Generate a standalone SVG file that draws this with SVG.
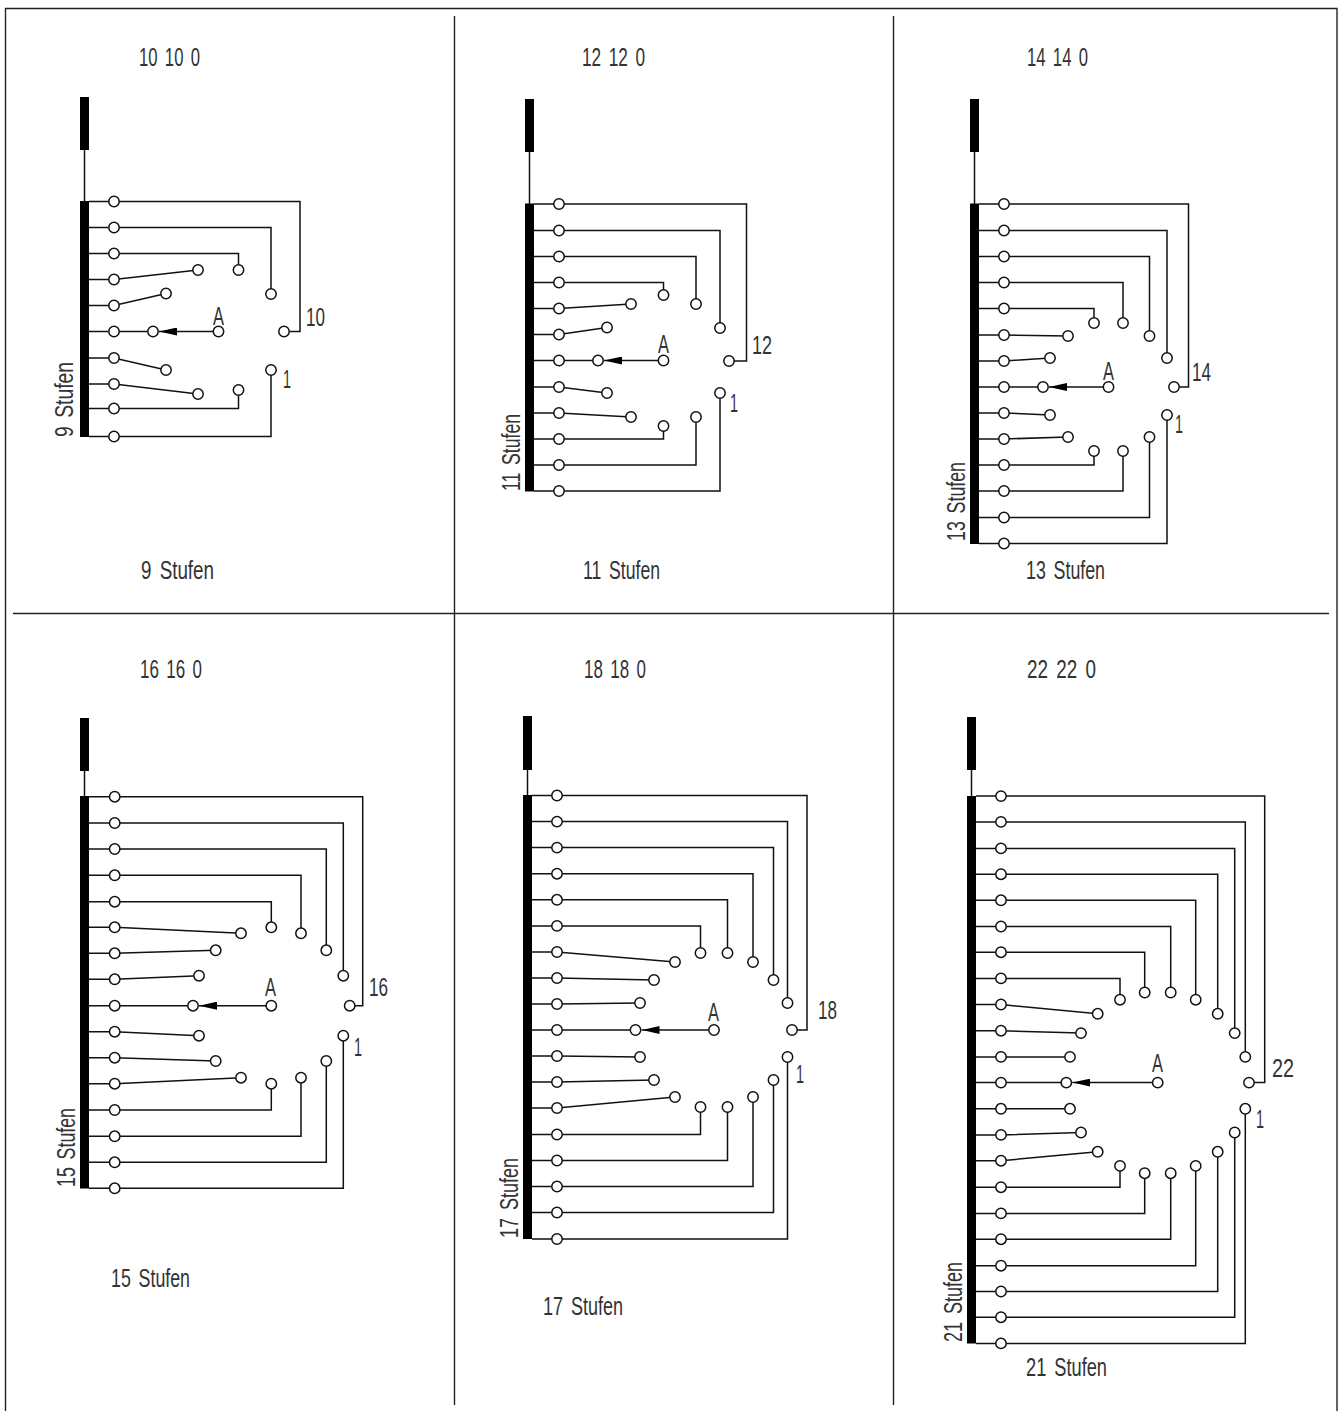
<svg xmlns="http://www.w3.org/2000/svg" width="1338" height="1411" viewBox="0 0 1338 1411">
<style>
.f{fill:none;stroke:#222;stroke-width:1.4}
.w{fill:none;stroke:#111;stroke-width:1.5}
.b{fill:#000}
.c{fill:#fff;stroke:#111;stroke-width:1.5}
text{font-family:"Liberation Sans",Arial,sans-serif;font-size:25px;fill:#333;word-spacing:4px}
</style>
<defs>
<marker id="arr" markerUnits="userSpaceOnUse" viewBox="0 0 18 8" refX="18" refY="4" markerWidth="18" markerHeight="8" orient="auto"><path d="M0 0L18 4L0 8Z" fill="#000"/></marker>
<circle id="n" r="5.2"/>
</defs>
<rect width="1338" height="1411" fill="#fff"/>
<g id="frame">
<path class="f" d="M5.5 1411V8.5H1337V1411"/>
<path class="f" d="M13 613.5H1329M454.5 16V1405M893.5 16V1405"/>
</g>
<g id="connectors">
<!-- panel 1 -->
<path class="w" d="M84.5 150V201"/>
<path class="w" d="M89 201.5H300V331.5H289"/>
<path class="w" d="M89 227.5H271V289"/>
<path class="w" d="M89 253.5H238.5V265"/>
<path class="w" d="M89 279.5H114L198 270"/>
<path class="w" d="M89 305.5H114L166 293.5"/>
<path class="w" d="M89 331.5H153"/>
<path class="w" marker-end="url(#arr)" d="M218.5 331.5H159"/>
<path class="w" d="M89 358H114L166 370"/>
<path class="w" d="M89 384H114L198 394"/>
<path class="w" d="M89 408.5H238.5V395"/>
<path class="w" d="M89 436.5H271V375"/>
<!-- panel 2 -->
<path class="w" d="M529.5 152V204"/>
<path class="w" d="M534 204H746.5V361H734"/>
<path class="w" d="M534 230.5H720V323"/>
<path class="w" d="M534 256.5H696V299"/>
<path class="w" d="M534 282.5H663.5V290"/>
<path class="w" d="M534 308.5H559L631 304"/>
<path class="w" d="M534 334.5H559L607 327.5"/>
<path class="w" d="M534 360.5H598"/>
<path class="w" marker-end="url(#arr)" d="M663.5 360.5H604"/>
<path class="w" d="M534 387H559L607 393"/>
<path class="w" d="M534 413H559L631 417"/>
<path class="w" d="M534 439H663.5V431"/>
<path class="w" d="M534 465H696V422"/>
<path class="w" d="M534 491H720V398"/>
<!-- panel 3 -->
<path class="w" d="M974.5 152V204"/>
<path class="w" d="M979 204H1188.5V387H1179"/>
<path class="w" d="M979 230.5H1167V353"/>
<path class="w" d="M979 256.5H1149.5V331"/>
<path class="w" d="M979 282.5H1123V318"/>
<path class="w" d="M979 308.5H1094V318"/>
<path class="w" d="M979 335H1004L1068 336"/>
<path class="w" d="M979 361H1004L1050 358"/>
<path class="w" d="M979 387H1043"/>
<path class="w" marker-end="url(#arr)" d="M1108.5 387H1049"/>
<path class="w" d="M979 413H1004L1050 415"/>
<path class="w" d="M979 439H1004L1068 437"/>
<path class="w" d="M979 465H1094V456"/>
<path class="w" d="M979 491H1123V456"/>
<path class="w" d="M979 517.5H1149.5V442"/>
<path class="w" d="M979 543.5H1167V420"/>
<!-- panel 4 -->
<path class="w" d="M84.5 771V796"/>
<path class="w" d="M89 796.7H362.7V1005.7H354.7"/>
<path class="w" d="M89 823H343.3V970.7"/>
<path class="w" d="M89 849H326.3V945.3"/>
<path class="w" d="M89 875.3H301V928.3"/>
<path class="w" d="M89 901.7H271.3V922.3"/>
<path class="w" d="M89 927.3H114.7L241 933.3"/>
<path class="w" d="M89 953.3H114.7L215.7 950.3"/>
<path class="w" d="M89 979.3H114.7L199 975.7"/>
<path class="w" d="M89 1005.7H193"/>
<path class="w" marker-end="url(#arr)" d="M271.3 1005.7H199"/>
<path class="w" d="M89 1031.7H114.7L199 1035.7"/>
<path class="w" d="M89 1057.7H114.7L215.7 1061"/>
<path class="w" d="M89 1083.7H114.7L241 1077.7"/>
<path class="w" d="M89 1110H271.3V1088.7"/>
<path class="w" d="M89 1136.3H301V1082.7"/>
<path class="w" d="M89 1162.3H326.3V1066"/>
<path class="w" d="M89 1188.3H343.3V1040.7"/>
<!-- panel 5 -->
<path class="w" d="M527.5 770V795"/>
<path class="w" d="M532 795.5H807V1030H797"/>
<path class="w" d="M532 821.6H787.5V998"/>
<path class="w" d="M532 847.6H773.5V975"/>
<path class="w" d="M532 873.7H753V957"/>
<path class="w" d="M532 899.8H727.5V948"/>
<path class="w" d="M532 925.9H700.5V948"/>
<path class="w" d="M532 952H557L675 962"/>
<path class="w" d="M532 978H557L654 980"/>
<path class="w" d="M532 1004H557L640 1003"/>
<path class="w" d="M532 1030H635.5"/>
<path class="w" marker-end="url(#arr)" d="M714 1030H641.5"/>
<path class="w" d="M532 1056H557L640 1057"/>
<path class="w" d="M532 1082H557L654 1080"/>
<path class="w" d="M532 1108H557L675 1097"/>
<path class="w" d="M532 1134.5H700.5V1112"/>
<path class="w" d="M532 1160.5H727.5V1112"/>
<path class="w" d="M532 1186.5H753V1102"/>
<path class="w" d="M532 1212.5H773.5V1085"/>
<path class="w" d="M532 1239H787.5V1062"/>
<!-- panel 6 -->
<path class="w" d="M971.5 770V796"/>
<path class="w" d="M976 796.1H1264.7V1082.6H1254"/>
<path class="w" d="M976 821.9H1245.3V1051.9"/>
<path class="w" d="M976 848.4H1234.7V1028.1"/>
<path class="w" d="M976 874.2H1217.7V1008.8"/>
<path class="w" d="M976 900.3H1195.7V994.7"/>
<path class="w" d="M976 926.5H1170.7V987.5"/>
<path class="w" d="M976 952.2H1144.7V987.5"/>
<path class="w" d="M976 978.4H1120V994.7"/>
<path class="w" d="M976 1004.5H1001L1097.7 1013.8"/>
<path class="w" d="M976 1030.7H1001L1081 1033.1"/>
<path class="w" d="M976 1056.9H1070"/>
<path class="w" d="M976 1082.6H1066.3"/>
<path class="w" marker-end="url(#arr)" d="M1157.7 1082.6H1072.3"/>
<path class="w" d="M976 1108.8H1070"/>
<path class="w" d="M976 1134.9H1001L1081 1132.5"/>
<path class="w" d="M976 1160.7H1001L1097.7 1151.8"/>
<path class="w" d="M976 1187.2H1120V1170.9"/>
<path class="w" d="M976 1213.4H1144.7V1178.2"/>
<path class="w" d="M976 1239.2H1170.7V1178.2"/>
<path class="w" d="M976 1265.7H1195.7V1170.9"/>
<path class="w" d="M976 1291.5H1217.7V1156.8"/>
<path class="w" d="M976 1317.2H1234.7V1137.5"/>
<path class="w" d="M976 1343.4H1245.3V1113.8"/>
</g>
<g id="panel-10">
<rect class="b" x="80" y="97" width="9" height="53"/><rect class="b" x="80" y="201" width="9" height="236"/>
<g class="c">
<use href="#n" x="114" y="201.5"/><use href="#n" x="114" y="227.5"/><use href="#n" x="114" y="253.5"/><use href="#n" x="114" y="279.5"/><use href="#n" x="114" y="305.5"/><use href="#n" x="114" y="331.5"/><use href="#n" x="114" y="358"/><use href="#n" x="114" y="384"/><use href="#n" x="114" y="408.5"/><use href="#n" x="114" y="436.5"/>
<use href="#n" x="284" y="331.5"/><use href="#n" x="271" y="294"/><use href="#n" x="238.5" y="270"/><use href="#n" x="198" y="270"/><use href="#n" x="166" y="293.5"/><use href="#n" x="153" y="331.5"/><use href="#n" x="218.5" y="331.5"/><use href="#n" x="166" y="370"/><use href="#n" x="198" y="394"/><use href="#n" x="238.5" y="390"/><use href="#n" x="271" y="370"/>
</g>
<text x="139" y="66" textLength="61" lengthAdjust="spacingAndGlyphs">10 10 0</text>
<text x="141" y="579" textLength="73" lengthAdjust="spacingAndGlyphs">9 Stufen</text>
<text transform="translate(73 437) rotate(-90)" textLength="75" lengthAdjust="spacingAndGlyphs">9 Stufen</text>
<text x="213" y="325" textLength="11" lengthAdjust="spacingAndGlyphs">A</text>
<text x="306" y="326" textLength="19" lengthAdjust="spacingAndGlyphs">10</text>
<text x="283" y="388" textLength="8" lengthAdjust="spacingAndGlyphs">1</text>
</g>
<g id="panel-12">
<rect class="b" x="525" y="99" width="9" height="53"/><rect class="b" x="525" y="203.5" width="9" height="288"/>
<g class="c">
<use href="#n" x="559" y="204"/><use href="#n" x="559" y="230.5"/><use href="#n" x="559" y="256.5"/><use href="#n" x="559" y="282.5"/><use href="#n" x="559" y="308.5"/><use href="#n" x="559" y="334.5"/><use href="#n" x="559" y="360.5"/><use href="#n" x="559" y="387"/><use href="#n" x="559" y="413"/><use href="#n" x="559" y="439"/><use href="#n" x="559" y="465"/><use href="#n" x="559" y="491"/>
<use href="#n" x="729" y="361"/><use href="#n" x="720" y="328"/><use href="#n" x="696" y="304"/><use href="#n" x="663.5" y="295"/><use href="#n" x="631" y="304"/><use href="#n" x="607" y="327.5"/><use href="#n" x="598" y="360.5"/><use href="#n" x="663.5" y="360.5"/><use href="#n" x="607" y="393"/><use href="#n" x="631" y="417"/><use href="#n" x="663.5" y="426"/><use href="#n" x="696" y="417"/><use href="#n" x="720" y="393"/>
</g>
<text x="582" y="66" textLength="63" lengthAdjust="spacingAndGlyphs">12 12 0</text>
<text x="583" y="579" textLength="77" lengthAdjust="spacingAndGlyphs">11 Stufen</text>
<text transform="translate(520 491) rotate(-90)" textLength="77" lengthAdjust="spacingAndGlyphs">11 Stufen</text>
<text x="658" y="353" textLength="11" lengthAdjust="spacingAndGlyphs">A</text>
<text x="752" y="354" textLength="20" lengthAdjust="spacingAndGlyphs">12</text>
<text x="730" y="412" textLength="8" lengthAdjust="spacingAndGlyphs">1</text>
</g>
<g id="panel-14">
<rect class="b" x="970" y="99" width="9" height="53"/><rect class="b" x="970" y="203.5" width="9" height="340.5"/>
<g class="c">
<use href="#n" x="1004" y="204"/><use href="#n" x="1004" y="230.5"/><use href="#n" x="1004" y="256.5"/><use href="#n" x="1004" y="282.5"/><use href="#n" x="1004" y="308.5"/><use href="#n" x="1004" y="335"/><use href="#n" x="1004" y="361"/><use href="#n" x="1004" y="387"/><use href="#n" x="1004" y="413"/><use href="#n" x="1004" y="439"/><use href="#n" x="1004" y="465"/><use href="#n" x="1004" y="491"/><use href="#n" x="1004" y="517.5"/><use href="#n" x="1004" y="543.5"/>
<use href="#n" x="1174" y="387"/><use href="#n" x="1167" y="358"/><use href="#n" x="1149.5" y="336"/><use href="#n" x="1123" y="323"/><use href="#n" x="1094" y="323"/><use href="#n" x="1068" y="336"/><use href="#n" x="1050" y="358"/><use href="#n" x="1043" y="387"/><use href="#n" x="1108.5" y="387"/><use href="#n" x="1050" y="415"/><use href="#n" x="1068" y="437"/><use href="#n" x="1094" y="451"/><use href="#n" x="1123" y="451"/><use href="#n" x="1149.5" y="437"/><use href="#n" x="1167" y="415"/>
</g>
<text x="1027" y="66" textLength="61" lengthAdjust="spacingAndGlyphs">14 14 0</text>
<text x="1026" y="579" textLength="79" lengthAdjust="spacingAndGlyphs">13 Stufen</text>
<text transform="translate(965 541) rotate(-90)" textLength="79" lengthAdjust="spacingAndGlyphs">13 Stufen</text>
<text x="1103" y="380" textLength="11" lengthAdjust="spacingAndGlyphs">A</text>
<text x="1192" y="381" textLength="19" lengthAdjust="spacingAndGlyphs">14</text>
<text x="1175" y="433" textLength="8" lengthAdjust="spacingAndGlyphs">1</text>
</g>
<g id="panel-16">
<rect class="b" x="80" y="718" width="9" height="53"/><rect class="b" x="80" y="796" width="9" height="392.5"/>
<g class="c">
<use href="#n" x="114.7" y="796.7"/><use href="#n" x="114.7" y="823"/><use href="#n" x="114.7" y="849"/><use href="#n" x="114.7" y="875.3"/><use href="#n" x="114.7" y="901.7"/><use href="#n" x="114.7" y="927.3"/><use href="#n" x="114.7" y="953.3"/><use href="#n" x="114.7" y="979.3"/><use href="#n" x="114.7" y="1005.7"/><use href="#n" x="114.7" y="1031.7"/><use href="#n" x="114.7" y="1057.7"/><use href="#n" x="114.7" y="1083.7"/><use href="#n" x="114.7" y="1110"/><use href="#n" x="114.7" y="1136.3"/><use href="#n" x="114.7" y="1162.3"/><use href="#n" x="114.7" y="1188.3"/>
<use href="#n" x="349.7" y="1005.7"/><use href="#n" x="343.3" y="975.7"/><use href="#n" x="326.3" y="950.3"/><use href="#n" x="301" y="933.3"/><use href="#n" x="271.3" y="927.3"/><use href="#n" x="241" y="933.3"/><use href="#n" x="215.7" y="950.3"/><use href="#n" x="199" y="975.7"/><use href="#n" x="193" y="1005.7"/><use href="#n" x="271.3" y="1005.7"/><use href="#n" x="199" y="1035.7"/><use href="#n" x="215.7" y="1061"/><use href="#n" x="241" y="1077.7"/><use href="#n" x="271.3" y="1083.7"/><use href="#n" x="301" y="1077.7"/><use href="#n" x="326.3" y="1061"/><use href="#n" x="343.3" y="1035.7"/>
</g>
<text x="140" y="678" textLength="62" lengthAdjust="spacingAndGlyphs">16 16 0</text>
<text x="111" y="1287" textLength="79" lengthAdjust="spacingAndGlyphs">15 Stufen</text>
<text transform="translate(75 1187) rotate(-90)" textLength="79" lengthAdjust="spacingAndGlyphs">15 Stufen</text>
<text x="265" y="996" textLength="11" lengthAdjust="spacingAndGlyphs">A</text>
<text x="369" y="996" textLength="19" lengthAdjust="spacingAndGlyphs">16</text>
<text x="354" y="1056" textLength="8" lengthAdjust="spacingAndGlyphs">1</text>
</g>
<g id="panel-18">
<rect class="b" x="523" y="716" width="9" height="54"/><rect class="b" x="523" y="795" width="9" height="444"/>
<g class="c">
<use href="#n" x="557" y="795.5"/><use href="#n" x="557" y="821.6"/><use href="#n" x="557" y="847.6"/><use href="#n" x="557" y="873.7"/><use href="#n" x="557" y="899.8"/><use href="#n" x="557" y="925.9"/><use href="#n" x="557" y="952"/><use href="#n" x="557" y="978"/><use href="#n" x="557" y="1004"/><use href="#n" x="557" y="1030"/><use href="#n" x="557" y="1056"/><use href="#n" x="557" y="1082"/><use href="#n" x="557" y="1108"/><use href="#n" x="557" y="1134.5"/><use href="#n" x="557" y="1160.5"/><use href="#n" x="557" y="1186.5"/><use href="#n" x="557" y="1212.5"/><use href="#n" x="557" y="1239"/>
<use href="#n" x="792" y="1030"/><use href="#n" x="787.5" y="1003"/><use href="#n" x="773.5" y="980"/><use href="#n" x="753" y="962"/><use href="#n" x="727.5" y="953"/><use href="#n" x="700.5" y="953"/><use href="#n" x="675" y="962"/><use href="#n" x="654" y="980"/><use href="#n" x="640" y="1003"/><use href="#n" x="635.5" y="1030"/><use href="#n" x="714" y="1030"/><use href="#n" x="640" y="1057"/><use href="#n" x="654" y="1080"/><use href="#n" x="675" y="1097"/><use href="#n" x="700.5" y="1107"/><use href="#n" x="727.5" y="1107"/><use href="#n" x="753" y="1097"/><use href="#n" x="773.5" y="1080"/><use href="#n" x="787.5" y="1057"/>
</g>
<text x="584" y="678" textLength="62" lengthAdjust="spacingAndGlyphs">18 18 0</text>
<text x="543" y="1315" textLength="80" lengthAdjust="spacingAndGlyphs">17 Stufen</text>
<text transform="translate(518 1238) rotate(-90)" textLength="80" lengthAdjust="spacingAndGlyphs">17 Stufen</text>
<text x="708" y="1021" textLength="11" lengthAdjust="spacingAndGlyphs">A</text>
<text x="818" y="1019" textLength="19" lengthAdjust="spacingAndGlyphs">18</text>
<text x="796" y="1083" textLength="8" lengthAdjust="spacingAndGlyphs">1</text>
</g>
<g id="panel-22">
<rect class="b" x="967" y="717" width="9" height="53"/><rect class="b" x="967" y="796" width="9" height="547.5"/>
<g class="c">
<use href="#n" x="1001" y="796.1"/><use href="#n" x="1001" y="821.9"/><use href="#n" x="1001" y="848.4"/><use href="#n" x="1001" y="874.2"/><use href="#n" x="1001" y="900.3"/><use href="#n" x="1001" y="926.5"/><use href="#n" x="1001" y="952.2"/><use href="#n" x="1001" y="978.4"/><use href="#n" x="1001" y="1004.5"/><use href="#n" x="1001" y="1030.7"/><use href="#n" x="1001" y="1056.9"/><use href="#n" x="1001" y="1082.6"/><use href="#n" x="1001" y="1108.8"/><use href="#n" x="1001" y="1134.9"/><use href="#n" x="1001" y="1160.7"/><use href="#n" x="1001" y="1187.2"/><use href="#n" x="1001" y="1213.4"/><use href="#n" x="1001" y="1239.2"/><use href="#n" x="1001" y="1265.7"/><use href="#n" x="1001" y="1291.5"/><use href="#n" x="1001" y="1317.2"/><use href="#n" x="1001" y="1343.4"/>
<use href="#n" x="1249" y="1082.6"/><use href="#n" x="1245.3" y="1056.9"/><use href="#n" x="1234.7" y="1033.1"/><use href="#n" x="1217.7" y="1013.8"/><use href="#n" x="1195.7" y="999.7"/><use href="#n" x="1170.7" y="992.5"/><use href="#n" x="1144.7" y="992.5"/><use href="#n" x="1120" y="999.7"/><use href="#n" x="1097.7" y="1013.8"/><use href="#n" x="1081" y="1033.1"/><use href="#n" x="1070" y="1056.9"/><use href="#n" x="1066.3" y="1082.6"/><use href="#n" x="1157.7" y="1082.6"/><use href="#n" x="1070" y="1108.8"/><use href="#n" x="1081" y="1132.5"/><use href="#n" x="1097.7" y="1151.8"/><use href="#n" x="1120" y="1165.9"/><use href="#n" x="1144.7" y="1173.2"/><use href="#n" x="1170.7" y="1173.2"/><use href="#n" x="1195.7" y="1165.9"/><use href="#n" x="1217.7" y="1151.8"/><use href="#n" x="1234.7" y="1132.5"/><use href="#n" x="1245.3" y="1108.8"/>
</g>
<text x="1027" y="678" textLength="69" lengthAdjust="spacingAndGlyphs">22 22 0</text>
<text x="1026" y="1376" textLength="81" lengthAdjust="spacingAndGlyphs">21 Stufen</text>
<text transform="translate(962 1342) rotate(-90)" textLength="80" lengthAdjust="spacingAndGlyphs">21 Stufen</text>
<text x="1152" y="1072" textLength="11" lengthAdjust="spacingAndGlyphs">A</text>
<text x="1272" y="1077" textLength="22" lengthAdjust="spacingAndGlyphs">22</text>
<text x="1256" y="1128" textLength="8" lengthAdjust="spacingAndGlyphs">1</text>
</g>
</svg>
